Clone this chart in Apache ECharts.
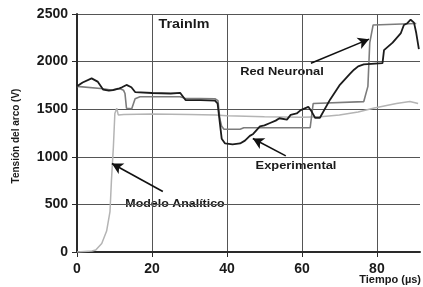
<!DOCTYPE html>
<html>
<head>
<meta charset="utf-8">
<script src="https://cdn.jsdelivr.net/npm/echarts@6/dist/echarts.min.js"></script>
<style>
  html, body { margin: 0; padding: 0; background: #fff; }
  #chart { width: 423px; height: 287px; }
</style>
</head>
<body>
<div id="chart"></div>
<script>
// 数据 (tiempo in µs, tensión in V)
const expTime = [0, 1.5, 3.9, 5.5, 7.0, 8.5, 9.6, 11.0, 12.0, 13.2, 14.5, 15.5, 20, 25, 27.5, 28.5, 29, 33, 36.8, 37.5, 38.6, 39.5, 41.5, 43.5, 44.8, 46.1, 47, 48.8, 50, 51.5, 53, 54, 56, 57, 58.6, 59.7, 61.7, 62.6, 63.5, 64.8, 67.5, 70, 72.8, 73.9, 75, 76.5, 81.5, 81.9, 84.2, 86.4, 87.2, 88, 89, 89.9, 90.5, 91.2]
const expVolt = [1740, 1780, 1824, 1790, 1705, 1695, 1700, 1715, 1730, 1755, 1730, 1680, 1670, 1665, 1672, 1620, 1595, 1595, 1590, 1560, 1190, 1140, 1130, 1140, 1170, 1220, 1240, 1320, 1330, 1355, 1380, 1405, 1390, 1440, 1455, 1490, 1525, 1475, 1410, 1410, 1600, 1750, 1870, 1915, 1950, 1970, 1985, 2120, 2200, 2300, 2385, 2400, 2440, 2410, 2300, 2130]

const rnaTime = [0, 7, 9, 11.5, 12.4, 12.8, 13.2, 14.6, 15.5, 16.8, 27.5, 28.8, 36.8, 37.6, 38.1, 38.6, 39.2, 43.5, 44.5, 62.2, 63.0, 63.5, 76.5, 77.6, 78.1, 79.0, 79.5, 90.5]
const rnaVolt = [1740, 1715, 1700, 1715, 1700, 1665, 1510, 1505, 1610, 1630, 1630, 1615, 1610, 1590, 1400, 1320, 1290, 1290, 1305, 1305, 1560, 1580, 1580, 1740, 2200, 2385, 2400, 2400]

const modTime = [0, 4, 5, 6.6, 7.9, 8.8, 9.2, 9.7, 10.1, 10.6, 11, 11.5, 12.5, 20, 30, 37, 40, 50, 60, 65, 70, 75, 79, 85.2, 88.8, 91]
const modVolt = [0, 10, 20, 90, 220, 425, 760, 1100, 1455, 1510, 1440, 1460, 1445, 1450, 1445, 1440, 1430, 1420, 1415, 1420, 1440, 1470, 1510, 1560, 1580, 1560]

const xTicks = [0, 20, 40, 60, 80]
const yTicks = [0, 500, 1000, 1500, 2000, 2500]

// flechas de las anotaciones [desde, hasta] en coordenadas de datos
const arrowRed = [[62.4, 1983], [77.9, 2236]]
const arrowExp = [[55.7, 1010], [46.9, 1192]]
const arrowMod = [[22.9, 636], [9.3, 929]]

const zip = (xs, ys) => xs.map((x, i) => [x, ys[i]])

const FONT = '"Liberation Sans", Arial, sans-serif'

const chart = echarts.init(document.getElementById('chart'), null, { renderer: 'canvas' })

const axisCommon = {
  axisLine: { show: true, lineStyle: { color: '#2a2a2a', width: 2 } },
  axisTick: { show: true, inside: false, length: 5, lineStyle: { color: '#2a2a2a', width: 1 } },
  axisLabel: { color: '#1a1a1a', fontFamily: FONT, fontWeight: 'bold', fontSize: 14 },
  splitLine: { show: true, lineStyle: { color: '#555', width: 1 } }
}

const arrowLine = (pair) => [{ coord: pair[0] }, { coord: pair[1] }]

const option = {
  animation: false,
  backgroundColor: '#fff',
  grid: { left: 77, right: 3, top: 14, bottom: 35, containLabel: false },
  xAxis: {
    type: 'value',
    min: xTicks[0],
    max: 91.5,
    interval: 20,
    ...axisCommon,
    axisLabel: {
      ...axisCommon.axisLabel,
      margin: 10,
      showMaxLabel: false,
      formatter: (v) => (xTicks.includes(v) ? String(v) : '')
    },
    splitLine: { ...axisCommon.splitLine, showMaxLine: false }
  },
  yAxis: {
    type: 'value',
    min: yTicks[0],
    max: yTicks[yTicks.length - 1],
    interval: 500,
    ...axisCommon,
    axisLabel: { ...axisCommon.axisLabel, margin: 9, formatter: (v) => String(v) }
  },
  series: [
    {
      name: 'Modelo Analítico',
      type: 'line',
      data: zip(modTime, modVolt),
      showSymbol: false,
      lineStyle: { color: '#b4b4b4', width: 1.5 },
      z: 2
    },
    {
      name: 'Red Neuronal',
      type: 'line',
      data: zip(rnaTime, rnaVolt),
      showSymbol: false,
      lineStyle: { color: '#7c7c7c', width: 1.6 },
      z: 3
    },
    {
      name: 'Experimental',
      type: 'line',
      data: zip(expTime, expVolt),
      showSymbol: false,
      lineStyle: { color: '#1c1c1c', width: 1.8 },
      z: 4,
      markLine: {
        silent: true,
        symbol: ['none', 'arrow'],
        symbolSize: [9, 11],
        label: { show: false },
        lineStyle: { color: '#111', width: 1.6, type: 'solid' },
        data: [arrowLine(arrowRed), arrowLine(arrowExp), arrowLine(arrowMod)]
      }
    }
  ],
  graphic: [
    {
      type: 'text', x: 184, y: 24, scaleX: 1.1,
      style: { text: 'Trainlm', font: 'bold 13px ' + FONT, fill: '#1a1a1a', align: 'center', verticalAlign: 'middle' }
    },
    {
      type: 'text', x: 282, y: 72, scaleX: 1.12,
      style: { text: 'Red Neuronal', font: 'bold 11.5px ' + FONT, fill: '#1a1a1a', align: 'center', verticalAlign: 'middle' }
    },
    {
      type: 'text', x: 296, y: 166, scaleX: 1.12,
      style: { text: 'Experimental', font: 'bold 11.5px ' + FONT, fill: '#1a1a1a', align: 'center', verticalAlign: 'middle' }
    },
    {
      type: 'text', x: 175, y: 204, scaleX: 1.08,
      style: { text: 'Modelo Analítico', font: 'bold 11.5px ' + FONT, fill: '#1a1a1a', align: 'center', verticalAlign: 'middle' }
    },
    {
      type: 'text', x: 421, y: 280,
      style: { text: 'Tiempo (µs)', font: 'bold 11px ' + FONT, fill: '#1a1a1a', align: 'right', verticalAlign: 'middle' }
    },
    {
      type: 'text', x: 16, y: 136, rotation: Math.PI / 2,
      style: { text: 'Tensión del arco (V)', font: 'bold 10px ' + FONT, fill: '#1a1a1a', align: 'center', verticalAlign: 'middle' }
    }
  ]
}

chart.setOption(option)
</script>
</body>
</html>
